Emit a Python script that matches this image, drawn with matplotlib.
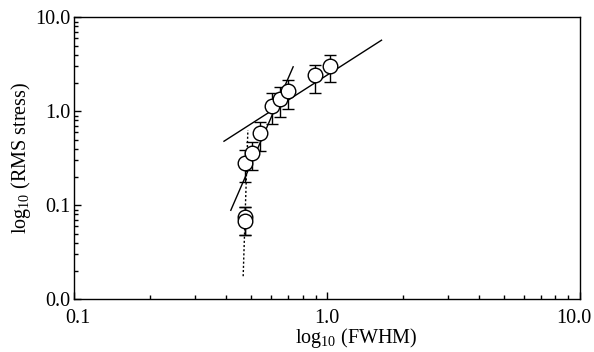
import numpy as np
import matplotlib.pyplot as plt
from matplotlib.ticker import FuncFormatter, LogLocator, NullFormatter
from matplotlib.transforms import ScaledTranslation

plt.rcParams['font.family'] = ['Liberation Serif', 'DejaVu Serif']
plt.rcParams['mathtext.fontset'] = 'custom'
plt.rcParams['mathtext.rm'] = 'Liberation Serif'
plt.rcParams['mathtext.it'] = 'Liberation Serif:italic'

# measured points (FWHM, RMS stress) with error bar ends
fwhm = [0.473, 0.473, 0.475, 0.506, 0.542, 0.603, 0.654, 0.701, 0.892, 1.031]
rms = [0.0758, 0.0687, 0.281, 0.359, 0.593, 1.13, 1.355, 1.63, 2.44, 3.06]
err_hi = [0.0969, 0.0969, 0.392, 0.476, 0.777, 1.58, 1.79, 2.17, 3.14, 4.01]
err_lo = [0.0488, 0.0488, 0.179, 0.240, 0.382, 0.740, 0.878, 1.07, 1.58, 2.03]

# fitted lines
fit_shallow_x = [0.391, 1.641]
fit_shallow_y = [0.480, 5.70]
fit_steep_x = [0.416, 0.734]
fit_steep_y = [0.0885, 2.97]
dotted_x = [0.4656, 0.486]
dotted_y = [0.0176, 0.63]

fig = plt.figure(figsize=(5.94, 3.52), dpi=100)
ax = fig.add_axes([0.125, 0.1497, 0.8514, 0.8013])

rms_arr = np.array(rms)
yerr = [rms_arr - np.array(err_lo), np.array(err_hi) - rms_arr]
ax.errorbar(fwhm, rms, yerr=yerr, fmt='o', mfc='white', mec='black', color='black',
            ms=10.5, mew=1.0, elinewidth=1.0, capsize=4, capthick=1.0, zorder=3)

ax.plot(fit_shallow_x, fit_shallow_y, color='black', lw=1.0)
ax.plot(fit_steep_x, fit_steep_y, color='black', lw=1.0)
ax.plot(dotted_x, dotted_y, color='black', lw=1.0, ls=(0, (1.5, 1.5)))

ax.set_xscale('log')
ax.set_yscale('log')
ax.set_xlim(0.1, 10)
ax.set_ylim(0.01, 10)

fmt = FuncFormatter(lambda v, p: '%.1f' % v)
ax.xaxis.set_major_locator(LogLocator(base=10, numticks=5))
ax.yaxis.set_major_locator(LogLocator(base=10, numticks=5))
ax.xaxis.set_major_formatter(fmt)
ax.yaxis.set_major_formatter(fmt)
ax.xaxis.set_minor_formatter(NullFormatter())
ax.yaxis.set_minor_formatter(NullFormatter())

ax.tick_params(which='both', direction='in', top=False, right=False, labelsize=14.5, width=1.0)
ax.tick_params(which='major', length=5, pad=3)
ax.tick_params(axis='x', which='major', pad=7)
ax.tick_params(which='minor', length=3)
for s in ax.spines.values():
    s.set_linewidth(1.0)

ax.set_xlabel(r'log$_{10}$ (FWHM)', fontsize=14.5)
ax.xaxis.set_label_coords(0.557, -0.095)
ax.set_ylabel(r'log$_{10}$ (RMS stress)', fontsize=14.5, labelpad=1)

# nudge the outer x tick labels inward, as in the original
fig.canvas.draw()
for lab in ax.get_xticklabels():
    if lab.get_text() == '0.1':
        lab.set_transform(lab.get_transform() + ScaledTranslation(4 / 100, 0, fig.dpi_scale_trans))
    elif lab.get_text() == '10.0':
        lab.set_transform(lab.get_transform() + ScaledTranslation(-6 / 100, 0, fig.dpi_scale_trans))

fig.savefig('out.png', dpi=100)
